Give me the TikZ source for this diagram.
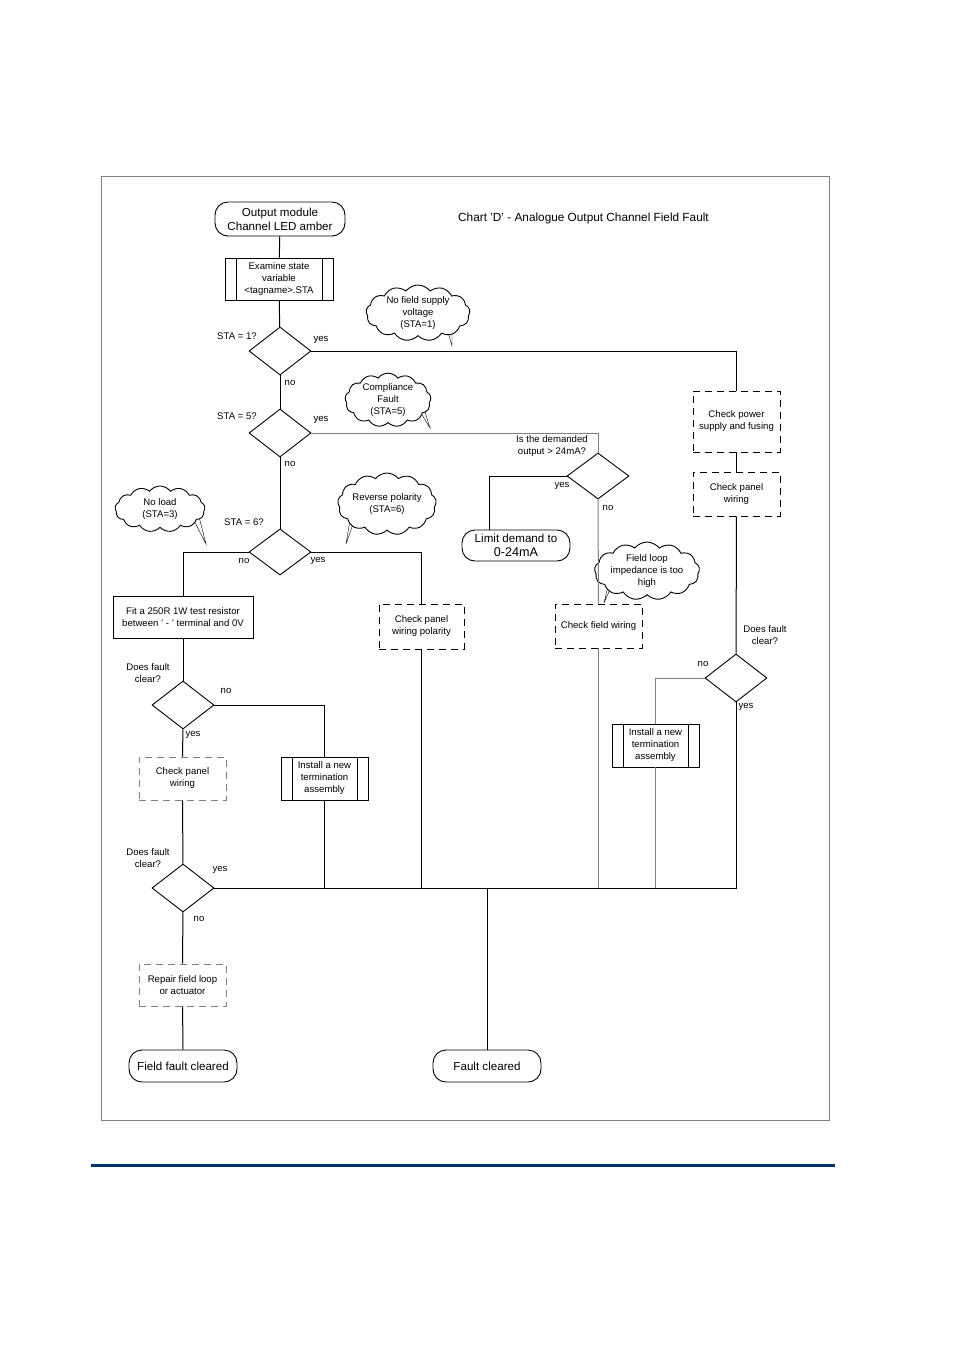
\documentclass[tikz,border=0pt]{standalone}
\usepackage{fontspec}
\setmainfont{Liberation Sans}
\usetikzlibrary{shapes.geometric,shapes.symbols,backgrounds,positioning}

\definecolor{rulenavy}{RGB}{0,51,102}
\definecolor{linegrey}{RGB}{128,128,128}

\tikzset{
  small/.style={font=\fontsize{9.6}{12}\selectfont, align=center},
  large/.style={font=\fontsize{11.6}{14}\selectfont, align=center},
  tag/.style={small, inner sep=0pt},
  terminal/.style={draw, large, rounded corners=13pt, minimum width=#1, minimum height=32pt, inner sep=1pt},
  terminal/.default=108pt,
  procbox/.style={draw, small, minimum width=87pt, minimum height=43pt, inner sep=1pt},
  predef/.style={procbox, path picture={
      \draw ([xshift=11pt]path picture bounding box.north west) -- ([xshift=11pt]path picture bounding box.south west);
      \draw ([xshift=-11pt]path picture bounding box.north east) -- ([xshift=-11pt]path picture bounding box.south east);}},
  checkbox/.style={procbox, dash pattern=on 7pt off 5pt},
  decision/.style={draw, diamond, minimum width=62pt, minimum height=48pt, inner sep=0pt},
  thought/.style={draw, fill=white, cloud, cloud puffs=13, cloud puff arc=105, cloud ignores aspect, small, inner sep=0pt},
  tail/.style={draw, fill=white},
  wire/.style={line width=1pt},
  greywire/.style={wire, linegrey}
}

\begin{document}
\begin{tikzpicture}[x=1pt, y=-1pt, line width=0.9pt]
        \useasboundingbox (0,0) rectangle (955,1350);

        % FRAME
        % -----------------
        \draw[linegrey] (101,176) rectangle (829,1120);
        \draw[rulenavy, line width=3pt] (91,1165.5) -- (835,1165.5);

        % NODES
        % -----------------

        % Main column
        \node[terminal=130pt, minimum height=34pt] (start) at (280,219) {Output module\\Channel LED amber};
        \node[predef, minimum width=108pt, minimum height=42pt] (examine) at (279,279) {Examine state\\variable\\<tagname>.STA};
        \node[decision] (sta1) at (280,351) {};
        \node[decision] (sta5) at (280,433) {};
        \node[decision, minimum height=46pt] (sta6) at (280,552) {};

        % Field supply branch
        \node[checkbox, minimum height=61pt] (psu) at (736.5,421.5) {Check power\\supply and fusing};
        \node[checkbox, minimum height=44pt] (panelR) at (736.5,494) {Check panel\\wiring};
        \node[decision] (clearR) at (736,678) {};
        \node[predef] (installR) at (655.5,745.5) {Install a new\\termination\\assembly};

        % Compliance branch
        \node[decision, minimum height=46pt] (demand) at (598,476) {};
        \node[terminal, minimum height=31pt] (limit) at (516,545.5) {Limit demand to\\{\fontsize{12.6}{14}\selectfont 0-24mA}};
        \node[checkbox, minimum height=44pt] (checkfield) at (598.5,626) {Check field wiring};

        % Polarity branch
        \node[checkbox, minimum width=85pt, minimum height=45pt] (polarity) at (421.5,626.5) {Check panel\\wiring polarity};

        % No load branch
        \node[procbox, minimum width=140pt, minimum height=42pt] (resistor) at (183,617) {Fit a 250R 1W test resistor\\between ' - ' terminal and 0V};
        \node[decision] (clearA) at (183,705) {};
        \node[predef] (installL) at (324.5,778.5) {Install a new\\termination\\assembly};
        \node[checkbox, draw=linegrey] (panelL) at (182.5,778.5) {Check panel\\wiring};
        \node[decision] (clearB) at (183,888) {};
        \node[checkbox, draw=linegrey, minimum height=42pt] (repair) at (182.5,985) {Repair field loop\\or actuator};

        % End points
        \node[terminal] (ffc) at (183,1066) {Field fault cleared};
        \node[terminal] (fc) at (487,1066) {Fault cleared};
        \coordinate (bus) at (487,888);

        % Title
        \node[font=\fontsize{11.8}{13}\selectfont, inner sep=0pt] (title) at (583.5,218) {Chart 'D' - Analogue Output Channel Field Fault};

        % LABELS
        % -----------------
        \node[tag] (q1) at (237,336) {STA = 1?};
        \node[tag] (q1yes) at (321,340) {yes};
        \node[tag] (q1no) at (290,383) {no};
        \node[tag] (q5) at (237,416) {STA = 5?};
        \node[tag] (q5yes) at (321,420) {yes};
        \node[tag] (q5no) at (290,464) {no};
        \node[tag] (qd) at (552,446) {Is the demanded\\output > 24mA?};
        \node[tag] (qdyes) at (562,486) {yes};
        \node[tag] (qdno) at (608,508) {no};
        \node[tag] (q6) at (244,522) {STA = 6?};
        \node[tag] (q6no) at (244,561) {no};
        \node[tag] (q6yes) at (318,561) {yes};
        \node[tag] (qa) at (148,673) {Does fault\\clear?};
        \node[tag] (qano) at (226,691) {no};
        \node[tag] (qayes) at (193,735) {yes};
        \node[tag] (qb) at (148,858) {Does fault\\clear?};
        \node[tag] (qbyes) at (220,870) {yes};
        \node[tag] (qbno) at (199,919) {no};
        \node[tag] (qr) at (765,635) {Does fault\\clear?};
        \node[tag] (qrno) at (703,664) {no};
        \node[tag] (qryes) at (746,707) {yes};

        % CLOUDS
        % -----------------
        \node[thought, minimum width=104pt, minimum height=56pt] (supply_note) at (418,313) {No field supply\\voltage\\(STA=1)};
        \node[thought, minimum width=86pt, minimum height=50pt] (compliance_note) at (388,400) {Compliance\\Fault\\(STA=5)};
        \node[thought, minimum width=96pt, minimum height=62pt] (polarity_note) at (387,504) {Reverse polarity\\(STA=6)};
        \node[thought, minimum width=90pt, minimum height=46pt] (load_note) at (160,509) {No load\\(STA=3)};
        \node[thought, minimum width=100pt, minimum height=58pt] (loop_note) at (647,571) {Field loop\\impedance is too\\high};

        \coordinate (supply_tip) at (452,346);
        \coordinate (compliance_tip) at (430,428);
        \coordinate (polarity_tip) at (346,544);
        \coordinate (load_tip) at (206,544);
        \coordinate (loop_tip) at (604,603);

        \begin{scope}[on background layer]
          \draw[tail] ([shift={(22pt,10pt)}]supply_note.center) -- (supply_tip) -- ([shift={(34pt,6pt)}]supply_note.center) -- cycle;
          \draw[tail] ([shift={(20pt,8pt)}]compliance_note.center) -- (compliance_tip) -- ([shift={(32pt,4pt)}]compliance_note.center) -- cycle;
          \draw[tail] ([shift={(-32pt,14pt)}]polarity_note.center) -- (polarity_tip) -- ([shift={(-20pt,20pt)}]polarity_note.center) -- cycle;
          \draw[tail] ([shift={(24pt,8pt)}]load_note.center) -- (load_tip) -- ([shift={(36pt,4pt)}]load_note.center) -- cycle;
          \draw[tail] ([shift={(-32pt,14pt)}]loop_note.center) -- (loop_tip) -- ([shift={(-20pt,20pt)}]loop_note.center) -- cycle;
        \end{scope}

        % EDGES
        % -----------------
        \draw[wire] (start) -- (examine);
        \draw[wire] (examine) -- (sta1);
        \draw[wire] (sta1) -- (sta5);
        \draw[wire] (sta5) -- (sta6);

        \draw[wire] (sta1.east) -| (psu.north);
        \draw[wire] (psu) -- (panelR);
        \draw[wire] (panelR) -- (clearR);
        \draw[greywire] (clearR.west) -| (installR.north);
        \draw[greywire] (installR.south) -- (installR.south |- bus);
        \draw[wire] (clearR.south) |- (bus);

        \draw[greywire] (sta5.east) -| (demand.north);
        \draw[wire] (demand.west) -| ([xshift=-27pt]limit.north);
        \draw[greywire] (demand.south) -- (checkfield.north);
        \draw[greywire] (checkfield.south) -- (checkfield.south |- bus);

        \draw[wire] (sta6.east) -| (polarity.north);
        \draw[wire] (polarity.south) -- (polarity.south |- bus);

        \draw[wire] (sta6.west) -| (resistor.north);
        \draw[wire] (resistor) -- (clearA);
        \draw[wire] (clearA.east) -| (installL.north);
        \draw[wire] (installL.south) -- (installL.south |- bus);
        \draw[wire] (clearA) -- (panelL);
        \draw[wire] (panelL) -- (clearB);
        \draw[wire] (clearB.east) -- (bus);
        \draw[wire] (bus) -- (fc.north);
        \draw[wire] (clearB) -- (repair);
        \draw[wire] (repair) -- (ffc);

\end{tikzpicture}
\end{document}
